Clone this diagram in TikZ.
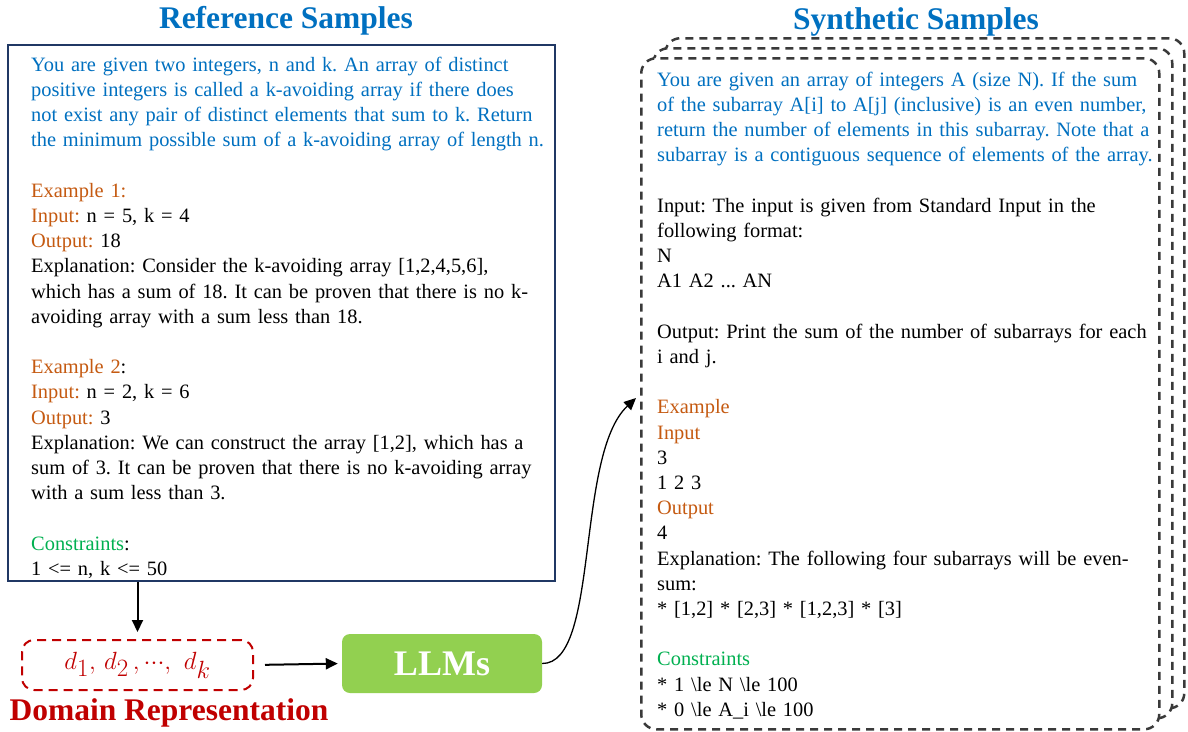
\documentclass[tikz,border=0pt]{standalone}
\usepackage{fontspec}
\setmainfont{Liberation Serif}
\usepackage{xcolor}
\usepackage{amsmath}
\usepackage{tikz}
\usetikzlibrary{arrows.meta, positioning}

\definecolor{refblue}{HTML}{0070C0}
\definecolor{exorange}{HTML}{C55A11}
\definecolor{csgreen}{HTML}{00B050}
\definecolor{domred}{HTML}{C00000}
\definecolor{boxnavy}{HTML}{203864}
\definecolor{llmgreen}{HTML}{92D050}
\definecolor{dashgray}{HTML}{3A3A3A}

\newcommand{\probtxt}[1]{\textcolor{refblue}{#1}}
\newcommand{\exword}[1]{\textcolor{exorange}{#1}}
\newcommand{\constxt}[1]{\textcolor{csgreen}{#1}}
\newcommand{\blankline}{\\[25.2pt]}
\frenchspacing

\begin{document}
\begin{tikzpicture}[x=1pt, y=-1pt,
            title/.style ={font=\fontsize{31.5pt}{36pt}\selectfont\bfseries, text=refblue,
                           inner sep=0pt, anchor=base},
            refbox/.style={rectangle, draw=boxnavy, line width=1.8pt, fill=white,
                           anchor=north west, inner sep=0pt},
            sample/.style={anchor=north west, inner sep=0pt, text width=#1, align=left,
                           font=\fontsize{20.4pt}{25.2pt}\selectfont\frenchspacing},
            synbox/.style={rectangle, draw=dashgray, line width=2.5pt, dash pattern=on 8pt off 6pt,
                           rounded corners=15pt, fill=white, anchor=north west,
                           minimum width=519pt, minimum height=670pt},
            dombox/.style={rectangle, draw=domred, line width=2pt, dash pattern=on 9pt off 6pt,
                           rounded corners=12pt, text=domred, minimum width=231pt,
                           minimum height=50pt, font=\fontsize{34pt}{38pt}\selectfont},
            llmbox/.style={rectangle, fill=llmgreen, rounded corners=8pt, text=white,
                           minimum width=200pt, minimum height=59pt,
                           font=\fontsize{36pt}{40pt}\selectfont\bfseries},
            arrow/.style ={-{Triangle[length=12pt, width=11pt]}, line width=2pt}
        ]
        \useasboundingbox (0,0) rectangle (1188,731);

        % left: reference sample
        \node[title] (reftitle) at (286,28) {Reference Samples};
        \node[refbox, minimum width=547pt, minimum height=536pt] (ref) at (7,44) {};
        \node[sample=600pt] (reftext) at (31,53.4) {\strut
            \probtxt{You are given two integers, n and k. An array of distinct}\\
            \probtxt{positive integers is called a k-avoiding array if there does}\\
            \probtxt{not exist any pair of distinct elements that sum to k. Return}\\
            \probtxt{the minimum possible sum of a k-avoiding array of length n.}\blankline
            \exword{Example 1:}\\
            \exword{Input:} n = 5, k = 4\\
            \exword{Output:} 18\\
            Explanation: Consider the k-avoiding array [1,2,4,5,6],\\
            which has a sum of 18. It can be proven that there is no k-\\
            avoiding array with a sum less than 18.\blankline
            \exword{Example 2}:\\
            \exword{Input:} n = 2, k = 6\\
            \exword{Output:} 3\\
            Explanation: We can construct the array [1,2], which has a\\
            sum of 3. It can be proven that there is no k-avoiding array\\
            with a sum less than 3.\blankline
            \constxt{Constraints}:\\
            1 <= n, k <= 50};

        % bottom: domains and LLMs
        \node[dombox] (dom) at (137.5,665) {$d_1,\, d_2\,, {\cdot}{\cdot}{\cdot},\ d_k$};
        \node[anchor=base, inner sep=0pt, text=domred,
              font=\fontsize{31.5pt}{36pt}\selectfont\bfseries] (domlabel) at (169,720) {Domain Representation};
        \node[llmbox] (llm) at (442,663.5) {LLMs};

        % right: synthetic samples, stacked
        \node[title] (syntitle) at (916,29) {Synthetic Samples};
        \node[synbox] (syn3) at (664,37) {};
        \node[synbox] (syn2) at (652,47) {};
        \node[synbox, minimum width=518pt, minimum height=671pt] (syn1) at (640,57) {};
        \node[sample=600pt] (syntext) at (657,68.4) {\strut
            \probtxt{You are given an array of integers A (size N). If the sum}\\
            \probtxt{of the subarray A[i] to A[j] (inclusive) is an even number,}\\
            \probtxt{return the number of elements in this subarray. Note that a}\\
            \probtxt{subarray is a contiguous sequence of elements of the array.}\blankline
            Input: The input is given from Standard Input in the\\
            following format:\\
            N\\
            A1 A2 ... AN\blankline
            Output: Print the sum of the number of subarrays for each\\
            i and j.\blankline
            \exword{Example}\\
            \exword{Input}\\
            3\\
            1 2 3\\
            \exword{Output}\\
            4\\
            Explanation: The following four subarrays will be even-\\
            sum:\\
            {*} [1,2] * [2,3] * [1,2,3] * [3]\blankline
            \constxt{Constraints}\\
            {*} 1 \textbackslash le N \textbackslash le 100\\
            {*} 0 \textbackslash le A\_i \textbackslash le 100};
        \coordinate (synin) at (636,398);

        \draw[arrow, shorten >=7pt] (ref.south -| dom.north) -- (dom.north);
        \draw[arrow, shorten <=11pt, shorten >=4pt] (dom.east) -- (llm.west);
        \draw[-{Triangle[length=12pt, width=11pt]}, line width=1.3pt]
            (llm.east) .. controls (600,664) and (575,455) .. (synin);
        \end{tikzpicture}
\end{document}
